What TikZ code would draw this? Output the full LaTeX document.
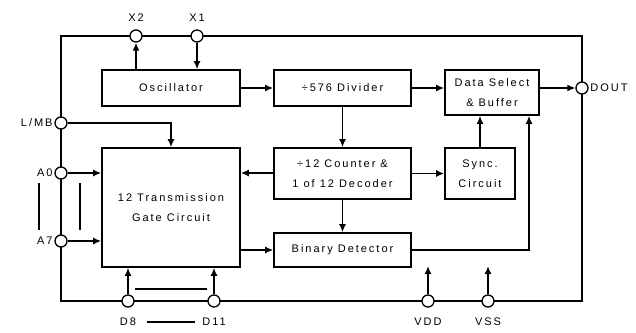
\documentclass[tikz,border=0pt]{standalone}
\usepackage{fontspec}
\setmainfont{Liberation Sans}[LetterSpace=18]
\usetikzlibrary{positioning,arrows.meta}

\begin{document}
\begin{tikzpicture}[
x=1pt,y=-1pt,
line width=1.6pt,
blk/.style={
  draw,
  align=center,
  inner sep=2pt,
  font=\fontsize{11}{20}\selectfont
},
term/.style={
  draw,
  circle,
  fill=white,
  inner sep=0pt,
  line width=1.3pt,
  minimum size=12pt,
  label distance=2pt
},
every label/.style={font=\fontsize{11}{13}\selectfont,inner sep=1pt},
sig/.style={-{Latex[length=8pt,width=7pt]}}
]
\useasboundingbox (0,0) rectangle (636,332);

% outer frame
\coordinate (tl) at (61,36);
\coordinate (br) at (582,301);
\draw (tl) rectangle (br);

% blocks
\node[blk,minimum width=138pt,minimum height=36pt] (osc) at (171,88) {Oscillator};
\node[blk,minimum width=137pt,minimum height=36pt] (div) at (342.5,88) {÷576 Divider};
\node[blk,minimum width=94pt,minimum height=45pt] (dsel) at (492,92.5) {Data Select\\\& Buffer};
\node[blk,minimum width=138pt,minimum height=119pt] (gate) at (171,207.5) {12 Transmission\\Gate Circuit};
\node[blk,minimum width=137pt,minimum height=51pt] (cnt) at (342.5,173.5) {÷12 Counter \&\\1 of 12 Decoder};
\node[blk,minimum width=70pt,minimum height=51pt] (sync) at (480,173.5) {Sync.\\Circuit};
\node[blk,minimum width=137pt,minimum height=34pt] (bin) at (342.5,250) {Binary Detector};

% pins
\node[term,label={[label distance=6pt]above:X2}] (x2) at (136,36) {};
\node[term,label={[label distance=6pt]above:X1}] (x1) at (197,36) {};
\node[term,label=left:L/MB] (lmb) at (61,123) {};
\node[term,label=left:A0] (a0) at (61,173) {};
\node[term,label=left:A7] (a7) at (61,241) {};
\node[term,label={[label distance=8pt]below:D8}] (d8) at (128,301) {};
\node[term,label={[label distance=8pt]below:D11}] (d11) at (214,301) {};
\node[term,label={[label distance=8pt]below:VDD}] (vdd) at (428,301) {};
\node[term,label={[label distance=8pt]below:VSS}] (vss) at (488,301) {};
\node[term,label={[label distance=0pt]right:DOUT}] (dout) at (582,88) {};

% signals
\draw[sig] (osc.north -| x2) -- (x2);
\draw[sig] (x1) -- (x1 |- osc.north);
\draw[sig] (osc) -- (div);
\draw[sig] (div) -- (dsel.west |- div);
\draw[sig] (dsel.east |- dout) -- (dout);
\draw[sig] (div) -- (cnt);
\draw[sig] (cnt) -- (bin);
\draw[sig] (cnt.west |- a0) -- (gate.east |- a0);
\draw[sig] (cnt) -- (sync);
\draw[sig] (sync) -- (sync |- dsel.south);
\coordinate (tap) at (529,250);
\draw[sig] (bin) -- (tap) -- (tap |- dsel.south);
\draw[sig] (gate.east |- bin) -- (bin);
\draw[sig] (lmb) -| (gate.north);
\draw[sig] (a0) -- (gate.west |- a0);
\draw[sig] (a7) -- (gate.west |- a7);
\draw[sig] (d8) -- (d8 |- gate.south);
\draw[sig] (d11) -- (d11 |- gate.south);
\coordinate (vddend) at (428,266);
\coordinate (vssend) at (488,266);
\draw[sig] (vdd) -- (vddend);
\draw[sig] (vss) -- (vssend);

% range bars
\draw (39,183) -- (39,230);
\draw (80,183) -- (80,230);
\draw (135,289) -- (207,289);
\draw (147,322) -- (195,322);
\end{tikzpicture}
\end{document}
